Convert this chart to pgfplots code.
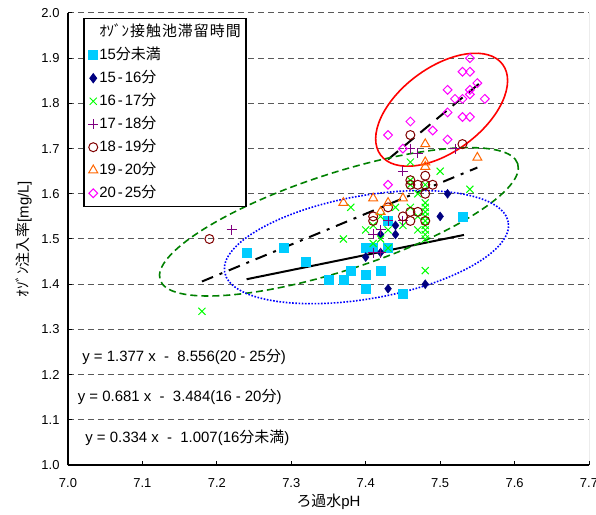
\documentclass[border=0pt]{standalone}
\usepackage{fontspec}
\setmainfont{Liberation Sans}
\newfontfamily\jp{Noto Sans CJK JP}
\usepackage{pgfplots}
\pgfplotsset{compat=1.18}
\usetikzlibrary{shapes.geometric}
\definecolor{cSq}{HTML}{00CCFF}
\definecolor{cDi}{HTML}{000080}
\definecolor{cX}{HTML}{00FF00}
\definecolor{cPl}{HTML}{800080}
\definecolor{cCi}{HTML}{800000}
\definecolor{cTr}{HTML}{FF6600}
\definecolor{cMg}{HTML}{FF00FF}
\definecolor{cGrn}{HTML}{008000}
\definecolor{cBlu}{HTML}{0000FF}
\definecolor{cRed}{HTML}{FF0000}
\newcommand{\hy}{\kern2bp-\kern2bp}
\newcommand{\ehy}{\kern4bp-\kern4bp}
\begin{document}
\begin{tikzpicture}
\begin{axis}[
  scale only axis, width=521bp, height=452bp,
  xmin=7, xmax=7.7, ymin=1, ymax=2,
  axis x line*=bottom, axis y line*=left,
  axis line style={line width=1.6bp, black},
  xtick={7,7.1,7.2,7.3,7.4,7.5,7.6,7.7},
  ytick={1,1.1,1.2,1.3,1.4,1.5,1.6,1.7,1.8,1.9,2},
  tick align=inside, major tick length=4bp,
  tick style={line width=1bp, black},
  ymajorgrids,
  major grid style={dash pattern=on 6bp off 4bp, line width=1bp, black!65},
  /pgf/number format/assume math mode=true,
  tick label style={font=\fontsize{13}{13}\selectfont},
  xticklabel style={/pgf/number format/fixed, /pgf/number format/fixed zerofill, /pgf/number format/precision=1, yshift=-10bp},
  yticklabel style={/pgf/number format/fixed, /pgf/number format/fixed zerofill, /pgf/number format/precision=1, xshift=-5bp},
  xlabel={{\jp ろ過水}pH},
  ylabel={{\jp ｵｿﾞﾝ注入率}[mg/L]},
  label style={font=\fontsize{15}{15}\selectfont},
  xlabel style={at={(axis description cs:0.5,0)}, anchor=center, yshift=-37bp},
  ylabel style={at={(axis description cs:-0.085,0.5)}, anchor=center},
  legend style={
    at={(axis description cs:0.0288,0.989)}, anchor=north west,
    draw=black, line width=1.5bp, fill=white,
    font=\fontsize{15}{15}\selectfont,
    inner xsep=4.5bp, inner ysep=5.5bp,
    row sep=7.0bp,
    nodes={inner sep=1bp, text height=11bp, text depth=3bp},
    /tikz/every even column/.append style={column sep=6.5bp},
  },
  legend cell align=left,
  legend image code/.code={\draw[#1, line width=1bp] plot[only marks] coordinates {(0bp,0bp)};},
]
\coordinate (SW) at (rel axis cs:0,0);
\addlegendimage{empty legend}
\addlegendentry{{\jp ｵｿﾞﾝ\kern1bp 接\kern1bp 触\kern1bp 池\kern1bp 滞\kern1bp 留\kern1bp 時\kern1bp 間}}

% 15分未満
\addplot[only marks, mark=square*, mark size=4.5bp, mark options={draw=cSq, fill=cSq}] coordinates {
(7.24,1.47) (7.29,1.48) (7.32,1.45) (7.35,1.41) (7.37,1.41) (7.38,1.43)
(7.40,1.42) (7.40,1.39) (7.40,1.48) (7.41,1.48) (7.42,1.43) (7.43,1.54)
(7.45,1.38) (7.53,1.55) (7.43,1.48)};
\addlegendentry{15{\jp 分未満}}

% 15-16分
\addplot[only marks, mark=diamond*, mark size=4.5bp, mark options={draw=cDi, fill=cDi}] coordinates {
(7.51,1.60) (7.50,1.55) (7.44,1.53) (7.44,1.51) (7.42,1.51) (7.42,1.47)
(7.40,1.46) (7.43,1.39) (7.48,1.40)};
\addlegendentry{15\hy 16{\jp 分}}

% 16-17分
\addplot[only marks, mark=x, mark size=5bp, mark options={draw=cX, line width=1bp}] coordinates {
(7.18,1.34) (7.37,1.50) (7.38,1.57) (7.40,1.52) (7.41,1.53) (7.42,1.50)
(7.42,1.55) (7.43,1.52) (7.44,1.57) (7.45,1.53) (7.46,1.67) (7.46,1.63)
(7.46,1.62) (7.46,1.57) (7.47,1.60) (7.47,1.55) (7.47,1.52) (7.48,1.62)
(7.48,1.58) (7.48,1.57) (7.48,1.56) (7.48,1.55) (7.48,1.54) (7.48,1.53)
(7.48,1.52) (7.48,1.51) (7.48,1.50) (7.48,1.43) (7.50,1.65) (7.54,1.61)
(7.43,1.48) (7.41,1.49)};
\addlegendentry{16\hy 17{\jp 分}}

% 17-18分
\addplot[only marks, mark=+, mark size=5bp, mark options={draw=cPl, line width=1bp}] coordinates {
(7.22,1.52) (7.41,1.51) (7.41,1.47) (7.42,1.52) (7.42,1.47) (7.43,1.54)
(7.45,1.54) (7.45,1.65) (7.46,1.70) (7.47,1.69) (7.52,1.70)};
\addlegendentry{17\hy 18{\jp 分}}

% 18-19分
\addplot[only marks, mark=o, mark size=4.5bp, mark options={draw=cCi, line width=1bp}] coordinates {
(7.19,1.50) (7.41,1.54) (7.41,1.55) (7.43,1.57) (7.45,1.55) (7.46,1.73)
(7.46,1.63) (7.46,1.62) (7.46,1.56) (7.46,1.54) (7.47,1.62) (7.47,1.56)
(7.48,1.64) (7.48,1.62) (7.48,1.60) (7.48,1.54) (7.49,1.62) (7.53,1.71)};
\addlegendentry{18\hy 19{\jp 分}}

% 19-20分
\addplot[only marks, mark=triangle, mark size=5.2bp, mark options={draw=cTr, line width=1bp}] coordinates {
(7.37,1.58) (7.41,1.59) (7.42,1.56) (7.43,1.58) (7.45,1.59) (7.48,1.71)
(7.48,1.67) (7.48,1.66) (7.55,1.68)};
\addlegendentry{19\hy 20{\jp 分}}

% 20-25分
\addplot[only marks, mark=square, mark size=3.1bp, mark options={draw=cMg, line width=1bp, rotate=45}] coordinates {
(7.54,1.90) (7.53,1.87) (7.54,1.87) (7.51,1.83) (7.54,1.83) (7.55,1.845)
(7.52,1.81) (7.53,1.81) (7.54,1.82) (7.56,1.81) (7.51,1.78) (7.53,1.77)
(7.54,1.77) (7.46,1.76) (7.43,1.73) (7.49,1.74) (7.51,1.72) (7.45,1.70)
(7.43,1.62)};
\addlegendentry{20\hy 25{\jp 分}}

% regression lines
\addplot[forget plot, black, line width=2bp] coordinates {(7.24,1.411) (7.532,1.509)};
\addplot[forget plot, black, line width=2bp, dash pattern=on 12bp off 7bp on 3bp off 7bp] coordinates {(7.18,1.406) (7.55,1.658)};
\addplot[forget plot, black, line width=2bp, dash pattern=on 13bp off 8bp] coordinates {(7.43,1.676) (7.56,1.854)};

% ellipses
\node[draw=cRed, line width=1.6bp, ellipse, inner sep=0pt, minimum width=152bp, minimum height=84bp, rotate=36.6] at (axis cs:7.502,1.786) {};
\node[draw=cGrn, line width=1.6bp, dash pattern=on 7bp off 4bp, ellipse, inner sep=0pt, minimum width=376bp, minimum height=97bp, rotate=18] at (axis cs:7.364,1.538) {};
\node[draw=cBlu, line width=1.6bp, dash pattern=on 1.6bp off 1.6bp, ellipse, inner sep=0pt, minimum width=288bp, minimum height=103bp, rotate=10] at (axis cs:7.401,1.482) {};

% equations
\node[anchor=west, font=\fontsize{15}{15}\selectfont, inner sep=0pt] at (axis cs:7.019,1.239) {y = 1.377 x\ \ -\ \ 8.556(20\ehy 25{\jp 分})};
\node[anchor=west, font=\fontsize{15}{15}\selectfont, inner sep=0pt] at (axis cs:7.013,1.150) {y = 0.681 x\ \ -\ \ 3.484(16\ehy 20{\jp 分})};
\node[anchor=west, font=\fontsize{15}{15}\selectfont, inner sep=0pt] at (axis cs:7.023,1.060) {y = 0.334 x\ \ -\ \ 1.007(16{\jp 分未満})};

\draw[black!60, line width=1bp] (rel axis cs:1,0) -- (rel axis cs:1,1);
\end{axis}
\pgfresetboundingbox
\useasboundingbox (SW) ++(-68bp,-50bp) rectangle ++(596bp,515bp);
\end{tikzpicture}
\end{document}
